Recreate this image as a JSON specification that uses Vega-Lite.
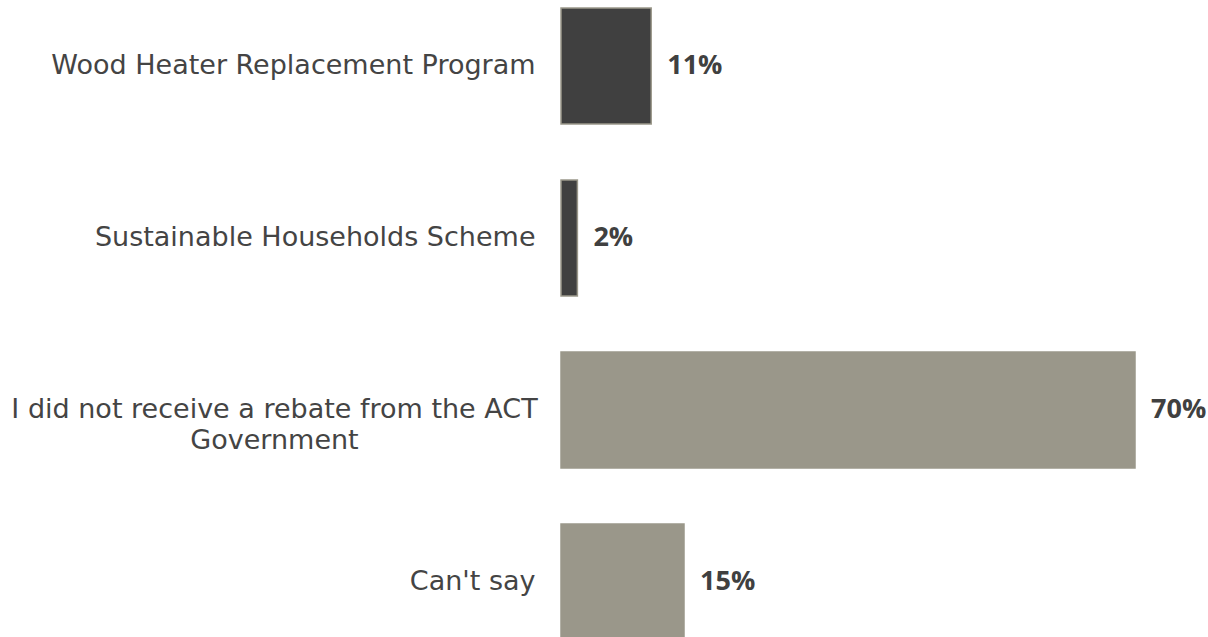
{
  "$schema": "https://vega.github.io/schema/vega-lite/v6.json",
  "autosize": {"type": "none"},
  "padding": {"left": 561, "top": 0, "right": 73, "bottom": 0},
  "width": 574,
  "height": 648,
  "background": "#ffffff",
  "config": {"view": {"stroke": null}},
  "data": {
    "values": [
      {"label": "Wood Heater Replacement Program", "value": 0.11, "group": "rebate"},
      {"label": "Sustainable Households Scheme", "value": 0.02, "group": "rebate"},
      {"label": "I did not receive a rebate from the ACT Government", "value": 0.70, "group": "none"},
      {"label": "Can't say", "value": 0.15, "group": "none"}
    ]
  },
  "encoding": {
    "y": {
      "field": "label",
      "type": "nominal",
      "sort": null,
      "scale": {"paddingInner": 0.326, "paddingOuter": 0.0465},
      "axis": {
        "title": null,
        "domain": false,
        "ticks": false,
        "labelFont": "DejaVu Sans",
        "labelFontSize": 27,
        "labelColor": "#444444",
        "labelLimit": 600,
        "labelPadding": {"condition": {"test": "indexof(datum.label, 'I did not') == 0", "value": 287}, "value": 26},
        "labelAlign": {"condition": {"test": "indexof(datum.label, 'I did not') == 0", "value": "center"}, "value": "right"},
        "labelLineHeight": 31,
        "labelExpr": "datum.value == 'I did not receive a rebate from the ACT Government' ? ['I did not receive a rebate from the ACT', 'Government'] : datum.value"
      }
    }
  },
  "layer": [
    {
      "mark": {"type": "bar", "stroke": "#9b988a", "strokeWidth": 1.5},
      "encoding": {
        "x": {"field": "value", "type": "quantitative", "scale": {"domain": [0, 0.7], "nice": false}, "axis": null},
        "color": {"field": "group", "type": "nominal", "scale": {"domain": ["rebate", "none"], "range": ["#404040", "#9a978a"]}, "legend": null}
      }
    },
    {
      "mark": {"type": "text", "align": "left", "dx": 16, "font": "Open Sans", "fontWeight": "bold", "fontSize": 27, "color": "#404040"},
      "encoding": {
        "x": {"field": "value", "type": "quantitative"},
        "text": {"field": "value", "type": "quantitative", "format": ".0%"}
      }
    }
  ]
}
